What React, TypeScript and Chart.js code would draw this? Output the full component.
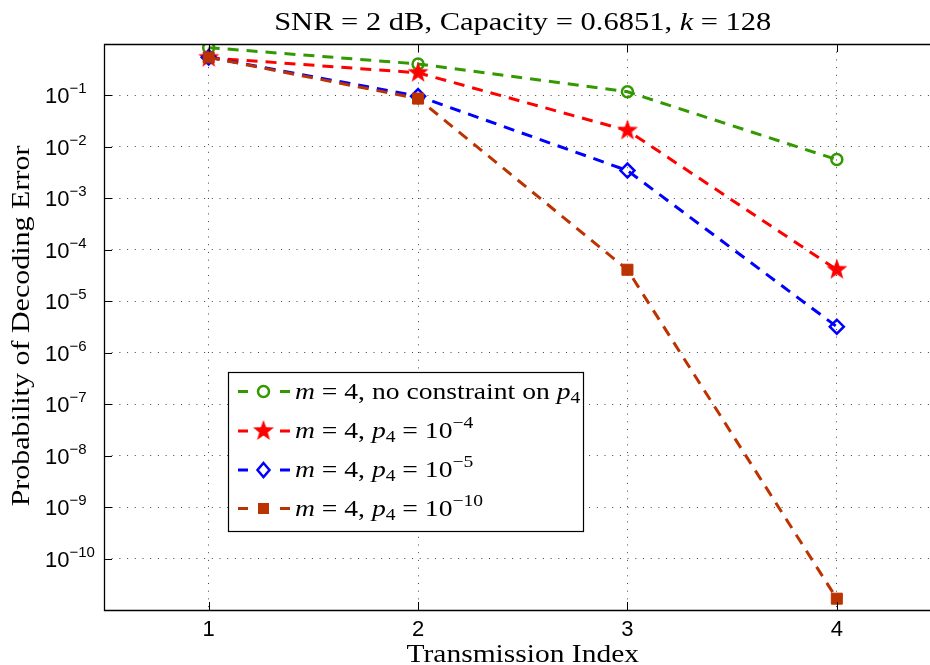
import React, { useEffect, useRef } from 'react';
import { Chart, registerables } from 'chart.js';

Chart.register(...registerables);

// ---- data ----
const transmissionIndex = [1, 2, 3, 4];
const noConstraint = [0.85, 0.41, 0.118, 0.00567];
const p4e4 = [0.54, 0.276, 0.0208, 4.1e-5];
const p4e5 = [0.55, 0.097, 0.00347, 3.2e-6];
const p4e10 = [0.55, 0.087, 4.1e-5, 1.66e-11];
const xTickLabels = ['1', '2', '3', '4'];
const yTickExponents = [-1, -2, -3, -4, -5, -6, -7, -8, -9, -10];
const legendExponents = ['', '\u22124', '\u22125', '\u221210'];

const GREEN = '#339900';
const RED = '#ff0000';
const BLUE = '#0000ff';
const BROWN = '#bb3300';

const SERIF = '"Liberation Serif", "DejaVu Serif", serif';
const SANS = '"Liberation Sans", Arial, sans-serif';

type Part = { t: string; it?: boolean; size?: number; dy?: number; font?: string };

function fontOf(p: Part, base: number, family: string) {
  return `${p.it ? 'italic ' : ''}${p.size ?? base}px ${p.font ?? family}`;
}

function richWidth(ctx: CanvasRenderingContext2D, parts: Part[], base: number, family: string) {
  let w = 0;
  for (const p of parts) {
    ctx.font = fontOf(p, base, family);
    w += ctx.measureText(p.t).width;
  }
  return w;
}

function drawRich(
  ctx: CanvasRenderingContext2D,
  parts: Part[],
  x: number,
  y: number,
  base: number,
  family: string,
  align: 'left' | 'center' = 'left',
  sx = 1
) {
  const w = richWidth(ctx, parts, base, family) * sx;
  const x0 = align === 'center' ? x - w / 2 : x;
  ctx.save();
  ctx.translate(x0, y);
  ctx.scale(sx, 1);
  let cx = 0;
  ctx.textAlign = 'left';
  ctx.textBaseline = 'alphabetic';
  for (const p of parts) {
    ctx.font = fontOf(p, base, family);
    ctx.fillText(p.t, cx, p.dy ?? 0);
    cx += ctx.measureText(p.t).width;
  }
  ctx.restore();
}

function makeStar(color: string, R: number, r: number) {
  const c = document.createElement('canvas');
  const s = Math.ceil(R * 2 + 2);
  c.width = s;
  c.height = s;
  const g = c.getContext('2d')!;
  g.fillStyle = color;
  g.beginPath();
  for (let i = 0; i < 10; i++) {
    const ang = -Math.PI / 2 + (i * Math.PI) / 5;
    const rad = i % 2 === 0 ? R : r;
    const px = s / 2 + rad * Math.cos(ang);
    const py = s / 2 + rad * Math.sin(ang);
    if (i === 0) g.moveTo(px, py);
    else g.lineTo(px, py);
  }
  g.closePath();
  g.fill();
  return c;
}

export default function App() {
  const ref = useRef<HTMLCanvasElement>(null);

  useEffect(() => {
    const canvas = ref.current!;
    const star = makeStar(RED, 11, 4.5);
    const toPts = (arr: number[]) => arr.map((v, i) => ({ x: transmissionIndex[i], y: v }));

    const decor = {
      id: 'decor',
      afterDraw(chart: any) {
        const { ctx, chartArea: a, scales } = chart;
        const x = scales.x;
        const y = scales.y;
        ctx.save();
        // axes box (left, bottom, top)
        ctx.strokeStyle = '#000';
        ctx.lineWidth = 1.3;
        ctx.setLineDash([]);
        ctx.beginPath();
        ctx.moveTo(a.right + 2, a.top + 0.5);
        ctx.lineTo(a.left + 0.5, a.top + 0.5);
        ctx.lineTo(a.left + 0.5, a.bottom + 0.5);
        ctx.lineTo(a.right + 2, a.bottom + 0.5);
        ctx.stroke();
        // tick marks inward
        ctx.lineWidth = 1;
        ctx.beginPath();
        for (const v of transmissionIndex) {
          const px = Math.round(x.getPixelForValue(v)) + 0.5;
          ctx.moveTo(px, a.bottom);
          ctx.lineTo(px, a.bottom - 8);
          ctx.moveTo(px, a.top);
          ctx.lineTo(px, a.top + 8);
        }
        for (const e of yTickExponents) {
          const py = Math.round(y.getPixelForValue(Math.pow(10, e))) + 0.5;
          ctx.moveTo(a.left, py);
          ctx.lineTo(a.left + 8, py);
        }
        ctx.stroke();

        ctx.fillStyle = '#000';
        // x tick labels
        transmissionIndex.forEach((v, i) => {
          ctx.font = `22px ${SANS}`;
          ctx.textAlign = 'center';
          ctx.textBaseline = 'alphabetic';
          ctx.fillText(xTickLabels[i], x.getPixelForValue(v), a.bottom + 26);
        });
        // y tick labels
        for (const e of yTickExponents) {
          const py = y.getPixelForValue(Math.pow(10, e));
          drawRich(
            ctx,
            [{ t: '10' }, { t: '\u2212' + Math.abs(e), size: 15, dy: -10 }],
            45,
            py + 8,
            22,
            SANS
          );
        }
        // title
        const cxPlot = x.getPixelForValue(2.5);
        drawRich(
          ctx,
          [{ t: 'SNR = 2 dB, Capacity = 0.6851, ' }, { t: 'k', it: true }, { t: ' = 128' }],
          cxPlot,
          30,
          25,
          SERIF,
          'center',
          1.22
        );
        // x title
        drawRich(ctx, [{ t: 'Transmission Index' }], cxPlot, 662, 25, SERIF, 'center', 1.18);
        // y title
        ctx.save();
        ctx.translate(28.5, 326);
        ctx.rotate(-Math.PI / 2);
        drawRich(ctx, [{ t: 'Probability of Decoding Error' }], 0, 0, 25, SERIF, 'center', 1.2);
        ctx.restore();

        // legend
        const L = 228.5, T = 372.5, R = 583.5, B = 531.5;
        ctx.fillStyle = '#fff';
        ctx.fillRect(L, T, R - L, B - T);
        ctx.strokeStyle = '#000';
        ctx.lineWidth = 1.2;
        ctx.strokeRect(L, T, R - L, B - T);
        const rows = [391.5, 431, 470, 508.5];
        const colors = [GREEN, RED, BLUE, BROWN];
        rows.forEach((ry, i) => {
          const col = colors[i];
          ctx.strokeStyle = col;
          ctx.fillStyle = col;
          ctx.lineWidth = 3;
          ctx.beginPath();
          ctx.moveTo(238, ry);
          ctx.lineTo(248, ry);
          ctx.moveTo(280, ry);
          ctx.lineTo(290, ry);
          ctx.stroke();
          const mx = 263.5;
          ctx.lineWidth = 2.5;
          if (i === 0) {
            ctx.beginPath();
            ctx.arc(mx, ry, 5.5, 0, Math.PI * 2);
            ctx.stroke();
          } else if (i === 1) {
            ctx.drawImage(star, mx - star.width / 2, ry - star.height / 2);
          } else if (i === 2) {
            ctx.beginPath();
            ctx.moveTo(mx, ry - 7);
            ctx.lineTo(mx + 6, ry);
            ctx.lineTo(mx, ry + 7);
            ctx.lineTo(mx - 6, ry);
            ctx.closePath();
            ctx.stroke();
          } else {
            ctx.fillRect(mx - 5.5, ry - 5.5, 11, 11);
          }
          ctx.fillStyle = '#000';
          const parts: Part[] =
            i === 0
              ? [
                  { t: 'm', it: true },
                  { t: ' = 4, no constraint on ' },
                  { t: 'p', it: true },
                  { t: '4', size: 17, dy: 4 },
                ]
              : [
                  { t: 'm', it: true },
                  { t: ' = 4, ' },
                  { t: 'p', it: true },
                  { t: '4', size: 17, dy: 4 },
                  { t: ' = 10' },
                  { t: legendExponents[i], size: 17, dy: -10 },
                ];
          drawRich(ctx, parts, 295, ry + 7, 24, SERIF, 'left', 1.15);
        });
        ctx.restore();
      },
    };

    const common = {
      borderWidth: 3,
      borderDash: [11, 8],
      borderCapStyle: 'butt' as const,
      fill: false,
      tension: 0,
      pointBorderWidth: 2.5,
    };

    const chart = new Chart(canvas, {
      type: 'line',
      data: {
        datasets: [
          {
            ...common,
            label: 'no constraint',
            data: toPts(noConstraint),
            borderColor: GREEN,
            pointStyle: 'circle',
            pointRadius: 5.5,
            pointBorderColor: GREEN,
            pointBackgroundColor: 'rgba(0,0,0,0)',
            order: 3,
          },
          {
            ...common,
            label: 'p4=1e-4',
            data: toPts(p4e4),
            borderColor: RED,
            pointStyle: star as any,
            pointRadius: 10,
            pointBorderColor: RED,
            pointBackgroundColor: RED,
            order: 2,
          },
          {
            ...common,
            label: 'p4=1e-5',
            data: toPts(p4e5),
            borderColor: BLUE,
            pointStyle: 'rectRot',
            pointRadius: 7,
            pointBorderColor: BLUE,
            pointBackgroundColor: 'rgba(0,0,0,0)',
            order: 1,
          },
          {
            ...common,
            label: 'p4=1e-10',
            data: toPts(p4e10),
            borderColor: BROWN,
            pointStyle: 'rect',
            pointRadius: 7.8,
            pointBorderWidth: 1,
            pointBorderColor: BROWN,
            pointBackgroundColor: BROWN,
            order: 0,
          },
        ],
      },
      options: {
        animation: false,
        responsive: false,
        maintainAspectRatio: false,
        layout: { autoPadding: false, padding: { left: 104, top: 44, bottom: 55, right: 0 } },
        plugins: { legend: { display: false }, tooltip: { enabled: false }, title: { display: false } },
        scales: {
          x: {
            type: 'linear',
            min: 0.5,
            max: 4.445,
            afterBuildTicks: (s: any) => {
              s.ticks = transmissionIndex.map((v) => ({ value: v }));
            },
            ticks: { display: false },
            grid: { color: '#444', lineWidth: 1, drawTicks: false },
            border: { display: false, dash: [1, 6.7] },
          },
          y: {
            type: 'logarithmic',
            min: 1e-11,
            max: 1,
            afterBuildTicks: (s: any) => {
              s.ticks = yTickExponents.map((e) => ({ value: Math.pow(10, e) }));
            },
            ticks: { display: false },
            grid: { color: '#444', lineWidth: 1, drawTicks: false },
            border: { display: false, dash: [1, 6.7] },
          },
        },
      },
      plugins: [decor],
    });

    return () => chart.destroy();
  }, []);

  return (
    <div style={{ position: 'fixed', left: 0, top: 0, width: 930, height: 665, background: '#fff', overflow: 'hidden' }}>
      <canvas ref={ref} width={930} height={665} style={{ width: 930, height: 665, display: 'block' }} />
    </div>
  );
}
